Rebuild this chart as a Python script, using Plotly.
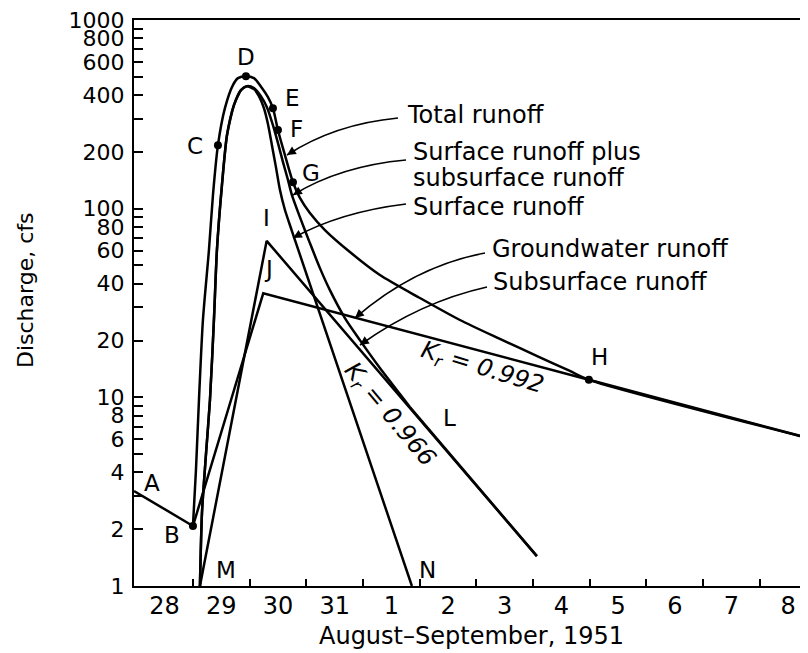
import math
import plotly.graph_objects as go

# ---------------- data (x = days after 00:00 Aug 28, y = discharge in cfs) ----------------
total_ab_x = [-0.04, 1.00]
total_ab_y = [3.19, 2.08]

total_x = [1.00, 1.053, 1.106, 1.176, 1.282, 1.353, 1.441, 1.564, 1.705, 1.794, 1.935, 2.076,
           2.217, 2.323, 2.411, 2.499, 2.623, 2.764, 2.887, 3.063, 3.328, 3.769, 4.298,
           5.004, 5.709, 6.414, 7.120, 7.649, 7.984, 11.85]
total_y = [2.08, 4.12, 9.68, 25.7, 60.3, 118, 217, 341, 452, 492, 504, 492,
           436, 390, 341, 261, 192, 138, 114, 94.8, 77.0, 58.9, 44.5,
           33.6, 25.7, 20.4, 16.3, 13.8, 12.4, 6.09]

sss_x = [1.123, 1.159, 1.229, 1.300, 1.370, 1.423, 1.511, 1.600, 1.723, 1.847, 1.952, 2.076,
         2.199, 2.305, 2.411, 2.499, 2.587, 2.676, 2.746, 2.887, 3.063, 3.240, 3.416,
         3.681, 3.945, 4.298, 4.651, 4.827]
sss_y = [1.0, 2.44, 4.95, 9.68, 25.7, 60.3, 133, 245, 354, 425, 446, 436,
         395, 345, 277, 223, 177, 142, 118, 90.2, 65.7, 48.4, 37.0,
         26.3, 20.1, 14.3, 10.4, 8.89]

surf_x = [1.123, 1.159, 1.229, 1.300, 1.370, 1.423, 1.511, 1.600, 1.723, 1.847, 1.952, 2.076,
          2.164, 2.252, 2.323, 2.393, 2.464, 2.534, 2.623, 2.746, 4.862]
surf_y = [1.0, 2.44, 4.95, 9.68, 25.7, 60.3, 133, 245, 354, 425, 446, 430,
          395, 341, 281, 217, 166, 126, 98.4, 76.1, 1.0]

gw_x = [1.00, 2.240, 7.984, 11.85]
gw_y = [2.08, 35.6, 12.4, 6.09]

sub_x = [1.123, 2.300, 7.067]
sub_y = [1.0, 67.5, 1.44]

dot_x = [1.00, 1.441, 1.935, 2.411, 2.499, 2.764, 7.984]
dot_y = [2.08, 217, 504, 341, 261, 138, 12.4]

letters = ["A", "B", "C", "D", "E", "F", "G", "H", "I", "J", "L", "M", "N"]
letter_x = [0.28, 0.63, 1.03, 1.93, 2.76, 2.83, 3.08, 8.18, 2.30, 2.34, 5.53, 1.58, 5.14]
letter_y = [3.5, 1.86, 215, 640, 385, 264, 154, 16.4, 89, 48, 7.8, 1.22, 1.22]

x_tickvals = [0.5, 1.5, 2.5, 3.5, 4.5, 5.5, 6.5, 7.5, 8.5, 9.5, 10.5, 11.5]
x_ticktext = ["28", "29", "30", "31", "1", "2", "3", "4", "5", "6", "7", "8"]
x_minor = [1, 2, 3, 4, 5, 6, 7, 8, 9, 10, 11]

y_tickvals = [1, 2, 4, 6, 8, 10, 20, 40, 60, 80, 100, 200, 400, 600, 800, 1000]
y_ticktext = [str(v) for v in y_tickvals]
y_minor = [3, 5, 7, 9, 30, 50, 70, 90, 300, 500, 700, 900]

# ---------------- figure ----------------
FONT = "DejaVu Sans"
L = dict(color="black", width=2.5)

fig = go.Figure()
fig.add_trace(go.Scatter(x=total_ab_x, y=total_ab_y, mode="lines", line=L))
fig.add_trace(go.Scatter(x=total_x, y=total_y, mode="lines", line=dict(L, shape="spline", smoothing=0.7)))
fig.add_trace(go.Scatter(x=sss_x, y=sss_y, mode="lines", line=dict(L, shape="spline", smoothing=0.7)))
fig.add_trace(go.Scatter(x=[sss_x[-1], sub_x[-1]], y=[sss_y[-1], sub_y[-1]], mode="lines", line=L))
fig.add_trace(go.Scatter(x=surf_x, y=surf_y, mode="lines", line=dict(L, shape="spline", smoothing=0.6)))
fig.add_trace(go.Scatter(x=gw_x, y=gw_y, mode="lines", line=L))
fig.add_trace(go.Scatter(x=sub_x, y=sub_y, mode="lines", line=L))
fig.add_trace(go.Scatter(x=dot_x, y=dot_y, mode="markers", marker=dict(color="black", size=8)))

for t, lx, ly in zip(letters, letter_x, letter_y):
    fig.add_annotation(x=lx, y=math.log10(ly), text=t, showarrow=False,
                       xanchor="center", yanchor="middle",
                       font=dict(family=FONT, size=23, color="black"))

# K_r labels
fig.add_annotation(x=6.10, y=math.log10(14.3), text="<i>K<sub>r</sub> = 0.992</i>", showarrow=False,
                   textangle=17, font=dict(family=FONT, size=24, color="black"))
fig.add_annotation(x=4.47, y=math.log10(8.06), text="<i>K<sub>r</sub> = 0.966</i>", showarrow=False,
                   textangle=50, font=dict(family=FONT, size=24, color="black"))

# ---------------- leader labels (pixel helpers for annotation placement) ----------------
def P(px, py):
    return ((px - 134) / 674.0, (586 - py) / 566.0)

labels = [("Total runoff", 405, 115), ("Surface runoff plus", 411, 152),
          ("subsurface runoff", 411, 178), ("Surface runoff", 411, 207),
          ("Groundwater runoff", 490, 249), ("Subsurface runoff", 491, 282)]
for txt, px, py in labels:
    x, y = P(px, py)
    fig.add_annotation(x=x, y=y, xref="paper", yref="paper", text=txt, showarrow=False,
                       xanchor="left", yanchor="middle", font=dict(family=FONT, size=24, color="black"))

leaders = [((398, 118), (335, 124), (287, 155)),
           ((406, 160), (340, 166), (293, 195)),
           ((406, 204), (340, 212), (293, 238)),
           ((485, 253), (415, 266), (355, 318)),
           ((487, 287), (420, 302), (360, 345))]
for (s, c, e) in leaders:
    x0, y0 = P(*s); cx, cy = P(*c); x1, y1 = P(*e)
    fig.add_shape(type="path", xref="paper", yref="paper",
                  path=f"M {x0},{y0} Q {cx},{cy} {x1},{y1}",
                  line=dict(color="black", width=1.6))
    dx, dy = c[0] - e[0], c[1] - e[1]
    n = math.hypot(dx, dy)
    fig.add_annotation(x=x1, y=y1, xref="paper", yref="paper", text="", showarrow=True,
                       ax=dx / n * 9, ay=dy / n * 9, arrowhead=2, arrowsize=1.1,
                       arrowwidth=1.6, arrowcolor="black")

# axis titles
xt, yt = P(471, 636)
fig.add_annotation(x=xt, y=yt, xref="paper", yref="paper", text="August\u2013September, 1951",
                   xanchor="center", yanchor="middle",
                   showarrow=False, font=dict(family=FONT, size=24, color="black"))
xt, yt = P(25, 291)
fig.add_annotation(x=xt, y=yt, xref="paper", yref="paper", text="Discharge, cfs", textangle=-90,
                   xanchor="center", yanchor="middle",
                   showarrow=False, font=dict(family=FONT, size=22, color="black"))

# page body has an 8 px margin, so the figure is offset by (8, 8) in the window
fig.update_layout(
    width=800, height=645,
    margin=dict(l=126, r=0, t=12, b=67, autoexpand=False),
    paper_bgcolor="white", plot_bgcolor="white",
    showlegend=False,
    font=dict(family=FONT, color="black"),
    xaxis=dict(range=[-0.04, 11.85], showline=True, linecolor="black", linewidth=2, mirror=True,
               automargin=False, ticklabelstandoff=-3,
               tickmode="array", tickvals=x_tickvals, ticktext=x_ticktext, ticks="",
               showgrid=False, zeroline=False, tickfont=dict(family=FONT, size=24, color="black"),
               minor=dict(tickmode="array", tickvals=x_minor, ticks="inside", ticklen=7,
                          tickwidth=2, tickcolor="black", showgrid=False)),
    yaxis=dict(type="log", range=[0, 3], showline=True, linecolor="black", linewidth=2,
               automargin=False, ticklabelstandoff=3, ticklabeloverflow="allow",
               tickmode="array", tickvals=y_tickvals, ticktext=y_ticktext, ticks="inside",
               ticklen=9, tickwidth=2, tickcolor="black", showgrid=False, zeroline=False,
               tickfont=dict(family=FONT, size=22, color="black"),
               minor=dict(tickmode="array", tickvals=y_minor, ticks="inside", ticklen=9,
                          tickwidth=2, tickcolor="black", showgrid=False)),
)

fig.write_html("out.html")
